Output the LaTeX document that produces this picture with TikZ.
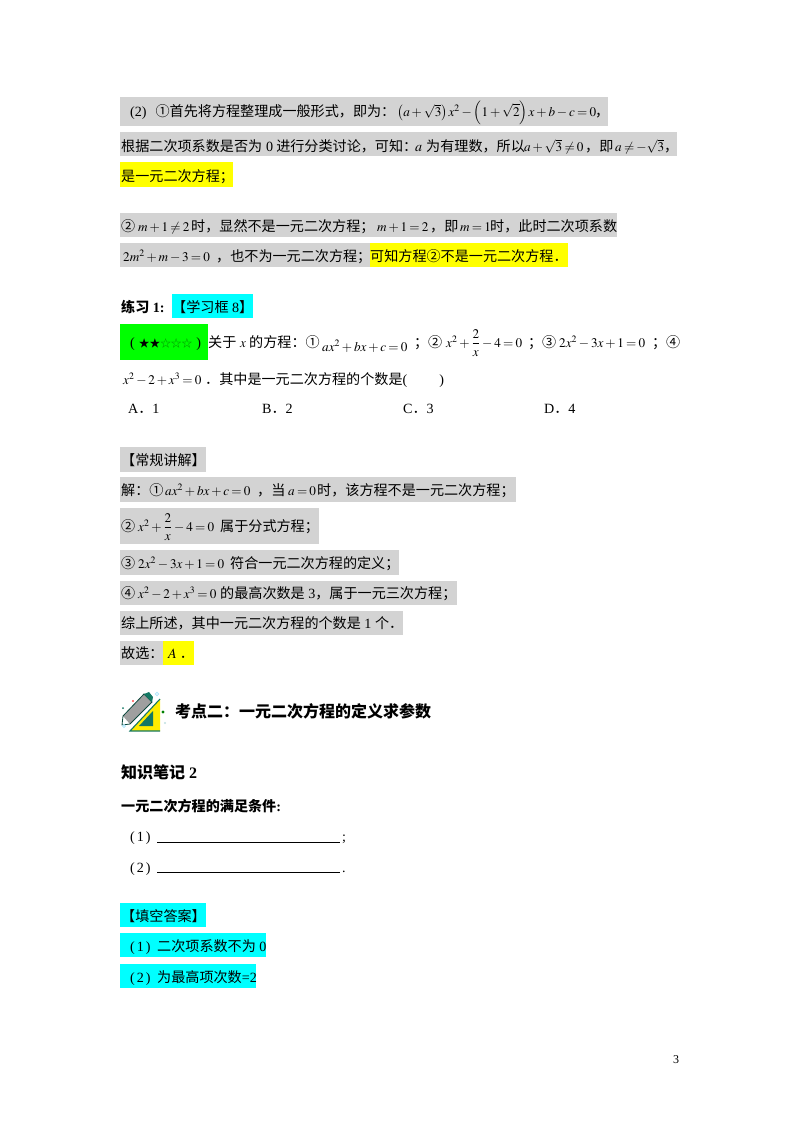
\documentclass[tikz,border=0pt]{standalone}
\usepackage{mathptmx}
\usepackage[no-math]{fontspec}
\setmainfont{Liberation Serif}
\newfontfamily\cjk{Noto Sans CJK SC}
\newcommand{\zh}[1]{{\cjk #1}}
\newcommand{\twoovers}{{\displaystyle\frac{2}{x}}}
\thinmuskip=1.5mu
\medmuskip=2.5mu
\thickmuskip=3mu
\definecolor{graybg}{RGB}{211,211,211}
\definecolor{yellowbg}{RGB}{255,255,0}
\definecolor{cyanbg}{RGB}{0,255,255}
\definecolor{greenbg}{RGB}{0,255,0}
\definecolor{icongreen}{RGB}{20,120,100}
\tikzset{
        line/.style={anchor=base west, inner sep=0pt, font=\fontsize{14.1}{17}\selectfont},
        eq/.style={line, font=\fontsize{13.2}{16}\selectfont},
        heading/.style={line, font=\fontsize{16}{19}\selectfont\bfseries},
        subheading/.style={line, font=\fontsize{14.1}{17}\selectfont\bfseries},
        pagenum/.style={line, font=\fontsize{12}{14}\selectfont},
    }

\begin{document}
\begin{tikzpicture}[x=1pt, y=-1pt]
        \useasboundingbox (0,0) rectangle (800,1132);

        % Gray bands
        \fill[graybg] (120,97) rectangle (608,126);
        \fill[graybg] (120,132) rectangle (677,156);
        \fill[graybg] (120,213) rectangle (617,237);
        \fill[graybg] (120,243) rectangle (370,267);
        \fill[graybg] (120,447) rectangle (206,472);
        \fill[graybg] (120,477) rectangle (516,502);
        \fill[graybg] (120,508) rectangle (319,544);
        \fill[graybg] (120,550) rectangle (399,575);
        \fill[graybg] (120,581) rectangle (457,605);
        \fill[graybg] (120,611) rectangle (403,635);
        \fill[graybg] (120,641) rectangle (163,665);

        % Yellow bands
        \fill[yellowbg] (120,162) rectangle (233,187);
        \fill[yellowbg] (370,243) rectangle (568,267);
        \fill[yellowbg] (163,641) rectangle (194,665);

        % Cyan and green bands
        \fill[cyanbg] (172,294) rectangle (253,318);
        \fill[greenbg] (120,324) rectangle (208,360);
        \fill[cyanbg] (120,903) rectangle (206,927);
        \fill[cyanbg] (120,933) rectangle (266,957);
        \fill[cyanbg] (120,964) rectangle (256,988);

        % First part
        \node[line] (general) at (130,116) {(2)\hspace{9pt}\zh{①首先将方程整理成一般形式，即为：}};
        \node[eq] (generaleq) at (397,116) {$\left(a+\sqrt{3}\right)x^{2}-\left(1+\sqrt{2}\right)x+b-c=0$};
        \node[line] (generalend) at (595,116) {\zh{，}};
        \node[line] (discuss) at (121,151) {\zh{根据二次项系数是否为}\hspace{4pt}0\hspace{3pt}\zh{进行分类讨论，可知：}};
        \node[line] (discussa) at (415,151) {$a$};
        \node[line] (rational) at (426,151) {\zh{为有理数，所以}};
        \node[eq] (discusseq) at (524,151) {$a+\sqrt{3}\neq 0$};
        \node[line] (discussend) at (585,151) {\zh{，即}};
        \node[eq] (discusseqtwo) at (615,151) {$a\neq-\sqrt{3}$};
        \node[line] (discussendtwo) at (664,151) {\zh{，}};
        \node[line] (isquad) at (121,181) {\zh{是一元二次方程；}};
        \node[line] (second) at (121,231) {\zh{②}};
        \node[eq] (secondeq) at (138,231) {$m+1\neq 2$};
        \node[line] (obvious) at (191,231) {\zh{时，显然不是一元二次方程；}};
        \node[eq] (secondeqtwo) at (377,231) {$m+1=2$};
        \node[line] (secondis) at (430,231) {\zh{，即}};
        \node[eq] (secondeqthree) at (460,231) {$m=1$};
        \node[line] (thistime) at (490,231) {\zh{时，此时二次项系数}};
        \node[eq] (coeff) at (123,261) {$2m^{2}+m-3=0$};
        \node[line] (alsonot) at (216,261) {\zh{，也不为一元二次方程；}};
        \node[line] (notquad) at (370,261) {\zh{可知方程②不是一元二次方程．}};

        % Exercise
        \node[subheading] (exercise) at (121,312) {\zh{练习} 1:};
        \node[line] (framelabel) at (172,312) {\zh{【学习框} 8\zh{】}};
        \node[line] (stars) at (130,347) {(\hspace{4pt}{\fontsize{10.7}{12}\selectfont\zh{★★\textcolor{green!55!black}{☆☆☆}}}\hspace{4pt})};
        \node[line] (about) at (208,347) {\zh{关于}};
        \node[eq] (aboutx) at (240,347) {$x$};
        \node[line] (ofeq) at (249,347) {\zh{的方程：①}};
        \node[eq] (eqone) at (322,351) {$ax^{2}+bx+c=0$};
        \node[line] (semione) at (414,347) {\zh{；}};
        \node[line] (circtwo) at (428,347) {\zh{②}};
        \node[eq] (eqtwo) at (446,347) {$x^{2}+\twoovers-4=0$};
        \node[line] (semitwo) at (528,347) {\zh{；}};
        \node[line] (circthree) at (542,347) {\zh{③}};
        \node[eq] (eqthree) at (559,347) {$2x^{2}-3x+1=0$};
        \node[line] (semithree) at (652,347) {\zh{；}};
        \node[line] (circfour) at (666,347) {\zh{④}};
        \node[eq] (eqfour) at (123,384) {$x^{2}-2+x^{3}=0$};
        \node[line] (count) at (205,384) {\zh{．其中是一元二次方程的个数是}(\hspace{32pt})};
        \node[line] (choicea) at (128,413) {A\zh{．}1};
        \node[line] (choiceb) at (262,413) {B\zh{．}2};
        \node[line] (choicec) at (403,413) {C\zh{．}3};
        \node[line] (choiced) at (544,413) {D\zh{．}4};

        % Solution
        \node[line] (sollabel) at (121,465) {\zh{【常规讲解】}};
        \node[line] (solone) at (121,495) {\zh{解：①}};
        \node[eq] (soloneeq) at (165,495) {$ax^{2}+bx+c=0$};
        \node[line] (solwhen) at (257,495) {\zh{，当}};
        \node[eq] (soloneeqtwo) at (288,495) {$a=0$};
        \node[line] (solonetext) at (317,495) {\zh{时，该方程不是一元二次方程；}};
        \node[line] (soltwo) at (121,531) {\zh{②}};
        \node[eq] (soltwoeq) at (138,531) {$x^{2}+\twoovers-4=0$};
        \node[line] (soltwotext) at (220,531) {\zh{属于分式方程；}};
        \node[line] (solthree) at (121,568) {\zh{③}};
        \node[eq] (solthreeeq) at (138,568) {$2x^{2}-3x+1=0$};
        \node[line] (solthreetext) at (230,568) {\zh{符合一元二次方程的定义；}};
        \node[line] (solfour) at (121,598) {\zh{④}};
        \node[eq] (solfoureq) at (138,598) {$x^{2}-2+x^{3}=0$};
        \node[line] (solfourtext) at (220,598) {\zh{的最高次数是} 3\zh{，属于一元三次方程；}};
        \node[line] (solsum) at (121,628) {\zh{综上所述，其中一元二次方程的个数是} 1 \zh{个．}};
        \node[line] (solpick) at (121,658) {\zh{故选：}};
        \node[line] (solans) at (168,658) {$A$\hspace{3pt}\zh{．}};

        % Icon
        \fill[yellowbg!85!orange] (160,699) -- (160,731) -- (130,731) -- cycle;
        \draw[icongreen, line width=1.1pt] (160,699) -- (130,731) -- (160,731);
        \fill[icongreen] (153,711) -- (153,726) -- (139,726) -- cycle;
        \fill[gray!75] (123,716) -- (144,694) -- (152,702) -- (130,724) -- cycle;
        \draw[icongreen!60!black, line width=.8pt] (123,716) -- (144,694) -- (152,702) -- (130,724) -- (122,725) -- cycle;
        \fill[icongreen] (144,694) -- (149,692) -- (153,697) -- (152,702) -- cycle;
        \fill[red!70] (133,701) circle (1.2);
        \fill[icongreen] (123,708) circle (1);
        \draw[cyan!30, line width=.8pt] (157,694) circle (1.8);
        \fill[green!50!black] (163,712) circle (1.6);
        \fill[teal!25] (165,723) circle (1.2);
        \draw[cyan!30, line width=.8pt] (124,726) circle (1.5);

        % Second topic
        \node[heading] (topic) at (175,717) {\zh{考点二：一元二次方程的定义求参数}};
        \node[heading] (notes) at (121,778) {\zh{知识笔记} 2};
        \node[subheading] (condition) at (121,811) {\zh{一元二次方程的满足条件}:};
        \node[line] (condone) at (130,841) {(\hspace{2pt}1\hspace{2pt})};
        \node[line] (condtwo) at (130,872) {(\hspace{2pt}2\hspace{2pt})};
        \coordinate (blankonea) at (157,842);
        \coordinate (blankoneb) at (340,842);
        \coordinate (blanktwoa) at (157,872);
        \coordinate (blanktwob) at (340,872);
        \draw[line width=.8pt] (blankonea) -- (blankoneb);
        \draw[line width=.8pt] (blanktwoa) -- (blanktwob);
        \node[line] (semi) at (342,841) {;};
        \node[line] (stop) at (342,872) {.};

        % Answers
        \node[line] (anslabel) at (121,921) {\zh{【填空答案】}};
        \node[line] (ansone) at (130,951) {(\hspace{2pt}1\hspace{2pt})};
        \node[line] (ansonetext) at (157,951) {\zh{二次项系数不为} 0};
        \node[line] (anstwo) at (130,982) {(\hspace{2pt}2\hspace{2pt})};
        \node[line] (anstwotext) at (157,982) {\zh{为最高项次数}=2};

        % Page number
        \node[pagenum] (page) at (673,1063) {3};

    \end{tikzpicture}
\end{document}
